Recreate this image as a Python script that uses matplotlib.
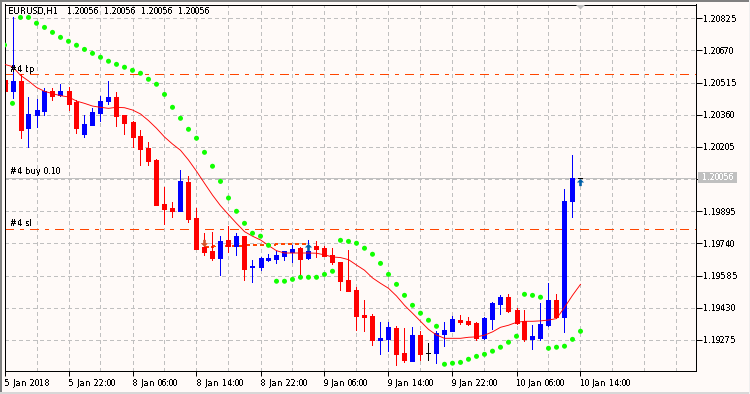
import numpy as np
import matplotlib
matplotlib.use("Agg")
import matplotlib.pyplot as plt
from matplotlib.patches import Rectangle, Polygon
from matplotlib.path import Path

plt.rcParams['text.antialiased'] = False
plt.rcParams['text.hinting'] = 'force_autohint'
plt.rcParams['text.hinting_factor'] = 1
plt.rcParams['lines.scale_dashes'] = False
plt.rcParams['font.family'] = ['DejaVu Sans']

# prices in points (price x 100000)
opens = [120528,120476,120523,120298,120359,120380,120473,120454,120473,120422,
 120269,120312,120370,120428,120446,120359,120325,120258,120200,120141,
 119930,119911,119895,120036,119863,119722,119702,119672,119755,119728,
 119775,119625,119627,119662,119665,119680,119697,119718,119670,119728,
 119718,119685,119651,119564,119516,119394,119391,119275,119280,119333,
 119212,119174,119299,119214,119212,119304,119318,119371,119367,119357,
 119285,119376,119447,119482,119420,119367,119280,119285,119347,119468,
 119386,119945,120056]
highs = [120528,120833,120557,120446,120436,120487,120487,120508,120492,120431,
 120359,120393,120450,120523,120470,120359,120332,120287,120229,120145,
 120012,119940,120094,120065,119911,119791,119795,119775,119823,119789,
 119775,119660,119673,119689,119702,119705,119734,119722,119757,119752,
 119726,119718,119651,119709,119530,119468,119400,119362,119362,119343,
 119333,119338,119318,119261,119318,119362,119391,119396,119386,119360,
 119386,119458,119492,119497,119429,119420,119347,119453,119550,119497,
 120002,120166,120056]
lows = [120476,120441,120250,120206,120303,120359,120431,120452,120383,120271,
 120255,120311,120332,120412,120306,120267,120206,120120,120116,119927,
 119834,119869,119895,119845,119714,119686,119660,119588,119698,119685,
 119564,119554,119612,119657,119648,119662,119651,119577,119665,119675,
 119681,119641,119516,119510,119323,119318,119251,119208,119222,119155,
 119169,119174,119179,119179,119164,119246,119318,119352,119347,119275,
 119280,119328,119400,119410,119352,119270,119232,119275,119343,119381,
 119314,119868,120056]
closes = [120476,120523,120288,120362,120381,120473,120452,120473,120412,120298,
 120314,120372,120426,120446,120356,120322,120255,120197,120137,119927,
 119908,119898,120041,119860,119714,119699,119672,119750,119726,119775,
 119619,119632,119670,119670,119685,119704,119714,119667,119704,119715,
 119681,119649,119559,119511,119391,119386,119275,119285,119338,119208,
 119179,119299,119208,119214,119309,119323,119376,119362,119352,119285,
 119381,119453,119482,119415,119357,119280,119294,119352,119468,119386,
 119945,120056,120056]
sar = [120696,120415,120829,120829,120801,120781,120757,120733,120714,120695,
 120675,120656,120637,120618,120603,120589,120574,120560,120531,120507,
 120458,120396,120343,120290,120247,120179,120112,120039,119959,119895,
 119837,119789,119775,119731,119558,119558,119567,119577,119577,119577,
 119591,119606,119755,119750,119741,119717,119688,119644,119591,119543,
 119490,119442,119404,119370,119341,119158,119163,119167,119182,119196,
 119206,119221,119240,119264,119293,119495,119490,119481,119235,119240,
 119245,119278,119317]
ma = [120603,120592,120550,120523,120492,120473,120462,120452,120446,120426,
 120415,120402,120396,120391,120396,120394,120383,120364,120332,120295,
 120253,120219,120189,120142,120088,120030,119973,119922,119879,119837,
 119797,119775,119757,119730,119705,119694,119694,119694,119694,119693,
 119685,119675,119672,119662,119636,119611,119574,119548,119524,119487,
 119442,119404,119365,119326,119299,119283,119283,119283,119288,119290,
 119298,119314,119336,119346,119360,119365,119365,119367,119371,119378,
 119432,119490,119543]

ytick_vals = [120825,120670,120515,120360,120205,120050,119895,119740,119585,119430,119275]
ytick_labels = ['1.20825','1.20670','1.20515','1.20360','1.20205','','1.19895','1.19740','1.19585','1.19430','1.19275']
xtick_bars = [0,8,16,24,32,40,48,56,64,72]
xtick_labels = ['5 Jan 2018','5 Jan 22:00','8 Jan 06:00','8 Jan 14:00','8 Jan 22:00',
                '9 Jan 06:00','9 Jan 14:00','9 Jan 22:00','10 Jan 06:00','10 Jan 14:00']
grid_bars = list(range(0, 88, 4))
tp_level, sl_level, bid_level = 120555, 119808, 120056
trade_bars, trade_prices = [25, 38], [119724, 119740]
close_arrow = (25, 119744)
buy_arrows = [(38, 119725), (72, 120036)]
title = 'EURUSD,H1   1.20056  1.20056  1.20056  1.20056'

W, H = 750, 394
BG = '#FFFAF8'
FS = 5.8
fig = plt.figure(figsize=(W/100, H/100), dpi=100, facecolor=BG)
L, R, T, B = 4.5, 695.5, 4.5, 371.0
ax = fig.add_axes([L/W, 1-B/H, (R-L)/W, (B-T)/H], facecolor=BG)
px = 0.72
ax.set_xlim(0, (R-L)/8)
ax.set_ylim(119125.5/1e5, 120891.3/1e5)

to_price = lambda v: np.asarray(v, float)/1e5
o, h, l, c = map(to_price, (opens, highs, lows, closes))
x = np.arange(len(o))
cols = ['#0000FF' if cc > oo else '#FF0000' if cc < oo else '#000000' for oo, cc in zip(o, c)]

GRID = '#C0C0C0'
dash = (0, (3*px, 3*px))
ax.set_yticks(to_price(ytick_vals))
ax.set_yticklabels(ytick_labels)
ax.set_xticks(xtick_bars)
ax.set_xticklabels(xtick_labels, ha='left')
ax.set_xticks(grid_bars, minor=True)
ax.yaxis.tick_right()
ax.tick_params(axis='y', length=4.0, width=px, pad=1.5, labelsize=FS, color='black')
ax.tick_params(axis='x', which='major', length=3.5, width=px, pad=2.2, labelsize=FS)
ax.tick_params(axis='x', which='minor', length=0)
ax.grid(True, axis='y', color=GRID, lw=px, ls=dash, aa=False, zorder=0)
ax.grid(True, axis='x', which='both', color=GRID, lw=px, ls=dash, aa=False, zorder=0)
ax.set_axisbelow(True)
for s in ax.spines.values():
    s.set_linewidth(px); s.set_color('black'); s.set_antialiased(False)

ax.axhline(bid_level/1e5, color=GRID, lw=px, aa=False, zorder=1)
level_style = (0, (9*px, 6*px, 3*px, 6*px))
for lvl in (tp_level, sl_level):
    ax.axhline(lvl/1e5, color='#FF4500', lw=px, ls=level_style, aa=False, zorder=1.5)

ax.vlines(x, l, h, colors=cols, lw=px, antialiased=False, zorder=2)
ax.bar(x, np.abs(c-o), bottom=np.minimum(o, c), width=4/8, color=cols, edgecolor=cols,
       linewidth=px, antialiased=False, zorder=2.1)

ax.plot(trade_bars, to_price(trade_prices), color='#FF4500', lw=px, ls=(0, (4*px, 4*px)), aa=False, zorder=1.8)
ax.plot(x, to_price(ma), color='#FF0000', lw=0.65, aa=True, zorder=3)
ax.scatter(x, to_price(sar), s=13, color='#10FF00', edgecolors='none', zorder=4)

up = Path([(-.18,-.5),(.18,-.5),(.18,0),(.5,0),(0,.5),(-.5,0),(-.18,0),(-.18,-.5)], closed=True)
down = Path([(-.18,.5),(.18,.5),(.18,.05),(.5,.05),(0,-.5),(-.5,.05),(-.18,.05),(-.18,.5)], closed=True)
for b, p in buy_arrows:
    ax.plot([b], [p/1e5], marker=up, ms=5.2, color='#0060A8', mew=0, ls='none', zorder=5)
ax.plot([close_arrow[0]], [close_arrow[1]/1e5], marker=down, ms=5.2, color='#D2552A', mew=0, ls='none', zorder=5)

def ftext(xp, yp, s, **kw):
    kw.setdefault('fontsize', FS); kw.setdefault('color', 'black')
    fig.text(xp/W, 1-yp/H, s, va='center', ha=kw.pop('ha', 'left'), **kw)

ftext(8.5, 11.5, title, zorder=10)
ftext(10, 69, '#4 tp', zorder=10)
ftext(10, 171.5, '#4 buy 0.10', zorder=10)
ftext(10, 223.5, '#4 sl', zorder=10)

fig.add_artist(Rectangle((698/W, 1-183/H), 39/W, 10.7/H, transform=fig.transFigure,
                         facecolor=GRID, edgecolor='none', antialiased=False))
ftext(702, 178, '1.20056', color='white', zorder=10)
fig.add_artist(Polygon([(576/W, 1-5/H), (585/W, 1-5/H), (580.5/W, 1-9.5/H)], closed=True,
                       transform=fig.transFigure, facecolor=GRID, edgecolor='none'))

for rect, col in [((0, 1-1.5/H, 1, 1.5/H), '#808080'), ((0, 0, 1.5/W, 1), '#808080'),
                  ((0, 0, 1, 2/H), '#D8D8D8'), ((748.5/W, 0, 1.5/W, 1), '#F0F0F0')]:
    fig.add_artist(Rectangle(rect[:2], rect[2], rect[3], transform=fig.transFigure,
                             facecolor=col, edgecolor='none', antialiased=False))

fig.savefig('out.png', dpi=100, facecolor=BG)
